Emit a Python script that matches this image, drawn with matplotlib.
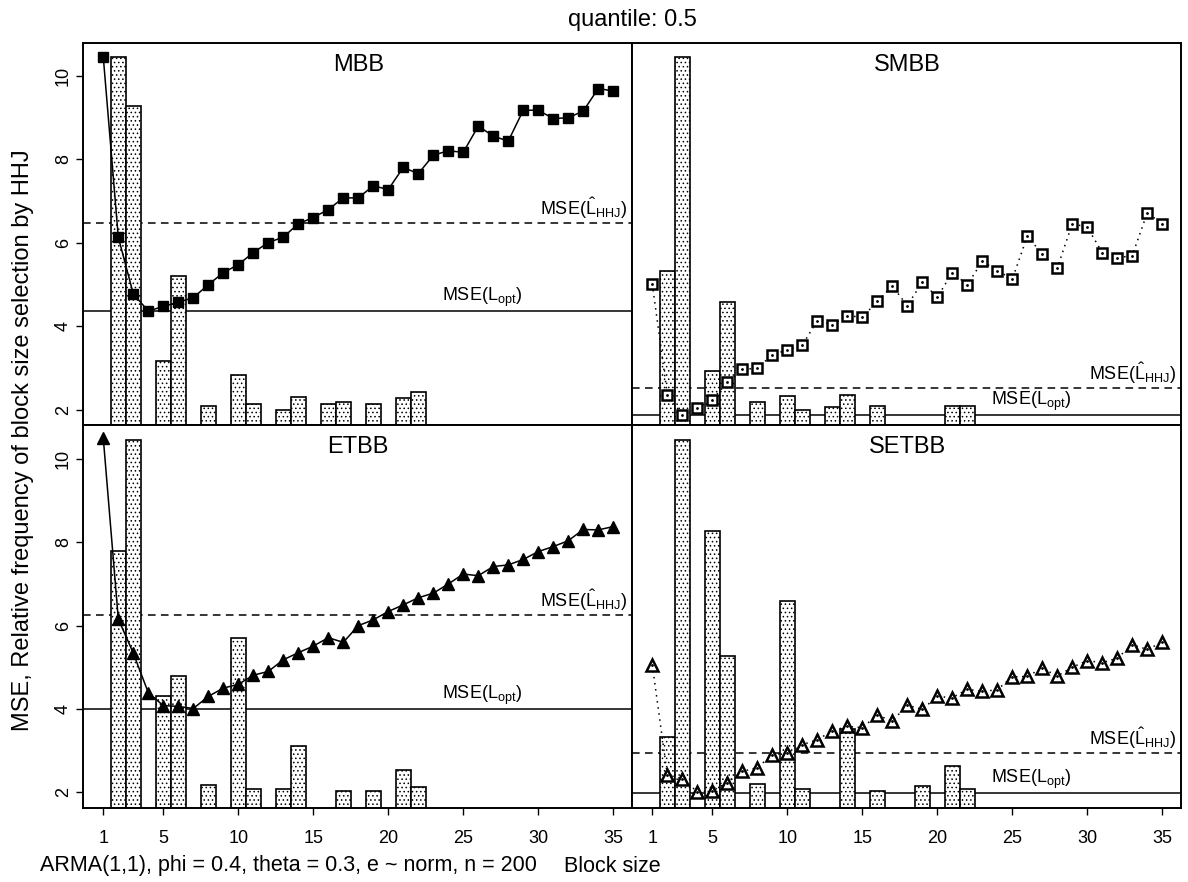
#! /usr/bin/env python
"""MSE by block size for four block bootstraps, with HHJ selection frequencies."""

import matplotlib
matplotlib.use("Agg")
import matplotlib.pyplot as plt

plt.rcParams["font.family"] = ["Liberation Sans", "DejaVu Sans"]
plt.rcParams["mathtext.fontset"] = "custom"
plt.rcParams["mathtext.rm"] = "Liberation Sans"
plt.rcParams["mathtext.it"] = "Liberation Sans:italic"
plt.rcParams["hatch.linewidth"] = 0.6

block_sizes = list(range(1, 36))

mse_mbb = [10.45, 6.14, 4.78, 4.37, 4.48, 4.58, 4.69, 5.00, 5.29, 5.48,
           5.77, 6.01, 6.14, 6.46, 6.61, 6.80, 7.08, 7.08, 7.37, 7.28,
           7.81, 7.66, 8.10, 8.21, 8.17, 8.80, 8.56, 8.44, 9.18, 9.18,
           8.98, 9.00, 9.16, 9.70, 9.64]
mse_smbb = [5.02, 2.37, 1.89, 2.04, 2.25, 2.66, 2.97, 3.00, 3.32, 3.44,
            3.55, 4.14, 4.04, 4.26, 4.22, 4.60, 4.97, 4.50, 5.06, 4.70,
            5.29, 5.00, 5.56, 5.34, 5.13, 6.16, 5.74, 5.40, 6.46, 6.38,
            5.77, 5.64, 5.70, 6.72, 6.46]
mse_etbb = [10.50, 6.16, 5.34, 4.39, 4.08, 4.06, 4.01, 4.30, 4.50, 4.59,
            4.81, 4.90, 5.18, 5.35, 5.51, 5.71, 5.60, 6.00, 6.14, 6.34,
            6.50, 6.67, 6.78, 7.00, 7.24, 7.20, 7.42, 7.46, 7.59, 7.78,
            7.90, 8.04, 8.31, 8.30, 8.38]
mse_setbb = [5.06, 2.42, 2.32, 2.01, 2.03, 2.23, 2.50, 2.59, 2.90, 2.94,
             3.14, 3.26, 3.47, 3.58, 3.55, 3.85, 3.71, 4.09, 3.99, 4.30,
             4.27, 4.47, 4.42, 4.46, 4.77, 4.78, 4.98, 4.79, 5.00, 5.16,
             5.11, 5.22, 5.54, 5.43, 5.60]

# block sizes picked by HHJ and the bar tops (frequency drawn on the MSE scale)
sel_mbb = [2, 3, 5, 6, 8, 10, 11, 13, 14, 16, 17, 19, 21, 22]
freq_mbb = [10.45, 9.29, 3.17, 5.22, 2.09, 2.84, 2.14, 2.01, 2.32, 2.14,
            2.18, 2.14, 2.28, 2.42]
sel_smbb = [2, 3, 5, 6, 8, 10, 11, 13, 14, 16, 21, 22]
freq_smbb = [5.34, 10.45, 2.94, 4.58, 2.20, 2.33, 2.00, 2.06, 2.37, 2.09,
             2.09, 2.09]
sel_etbb = [2, 3, 5, 6, 8, 10, 11, 13, 14, 17, 19, 21, 22]
freq_etbb = [7.80, 10.46, 4.31, 4.78, 2.18, 5.70, 2.07, 2.07, 3.10, 2.02,
             2.02, 2.54, 2.12]
sel_setbb = [2, 3, 5, 6, 8, 10, 11, 14, 16, 19, 21, 22]
freq_setbb = [3.32, 10.47, 8.27, 5.26, 2.19, 6.59, 2.07, 3.52, 2.02, 2.14,
              2.62, 2.07]

methods = ["MBB", "SMBB", "ETBB", "SETBB"]
mse_hhj = [6.48, 2.52, 6.26, 2.94]
mse_opt = [4.38, 1.88, 3.99, 1.98]

x_ticks = [1, 5, 10, 15, 20, 25, 30, 35]
y_ticks = [2, 4, 6, 8, 10]


def main():
    fig = plt.figure(figsize=(11.88, 8.82), dpi=100)

    W, H = 1188.0, 882.0
    left_x, right_x, panel_w = 83 / W, 632 / W, 549 / W
    boxes = [
        (left_x, 1 - 425 / H, panel_w, 382 / H),
        (right_x, 1 - 425 / H, panel_w, 382 / H),
        (left_x, 1 - 808 / H, panel_w, 383 / H),
        (right_x, 1 - 808 / H, panel_w, 383 / H),
    ]
    ylims = [(1.64, 10.79), (1.64, 10.79), (1.62, 10.82), (1.62, 10.82)]

    series = [mse_mbb, mse_smbb, mse_etbb, mse_setbb]
    sels = [sel_mbb, sel_smbb, sel_etbb, sel_setbb]
    freqs = [freq_mbb, freq_smbb, freq_etbb, freq_setbb]
    markers = ["s", "s", "^", "^"]
    filled = [True, False, True, False]

    for i, name in enumerate(methods):
        ax = fig.add_axes(boxes[i])
        y0, y1 = ylims[i]
        ax.set_xlim(-0.353, 36.25)
        ax.set_ylim(y0, y1)

        # selection frequency bars rising from the panel floor
        ax.bar(sels[i], [f - y0 for f in freqs[i]], bottom=y0, width=1.0,
               facecolor="white", edgecolor="black", linewidth=1.2,
               hatch="....", zorder=2)

        ax.axhline(mse_hhj[i], color="black", lw=1.1, ls=(0, (5, 3.5)),
                   zorder=1)
        ax.axhline(mse_opt[i], color="black", lw=1.1, zorder=1)

        if filled[i]:
            ax.plot(block_sizes, series[i], color="black", lw=1.1,
                    marker=markers[i], ms=7.5 if markers[i] == "s" else 9,
                    mfc="black", mec="black", zorder=4)
        else:
            ax.plot(block_sizes, series[i], color="black", lw=1.1,
                    ls=(0, (1, 3)), marker=markers[i],
                    ms=7 if markers[i] == "s" else 9,
                    mfc="white", mec="black", mew=1.8, zorder=4)
            ax.plot(block_sizes, series[i], ls="none", marker=".",
                    ms=2, color="black", zorder=5)

        ax.text(35.9, mse_hhj[i] + 0.05, r"MSE($\hat{\mathrm{L}}_{\mathrm{HHJ}}$)",
                ha="right", va="bottom", fontsize=13, zorder=6)
        ax.text(26.25, mse_opt[i] + 0.05, r"MSE(L$_{\mathrm{opt}}$)",
                ha="center", va="bottom", fontsize=13, zorder=6)
        ax.text(18, 0.972, name, transform=ax.get_xaxis_transform(),
                ha="center", va="top", fontsize=17)

        for sp in ax.spines.values():
            sp.set_linewidth(1.4)

        ax.set_xticks(x_ticks)
        ax.set_yticks(y_ticks)
        ax.tick_params(direction="out", length=5, width=1, labelsize=13)
        ax.tick_params(axis="x", pad=11)
        ax.tick_params(axis="y", pad=3, labelrotation=90)
        for lbl in ax.get_yticklabels():
            lbl.set_va("center")
        if i < 2:
            ax.tick_params(axis="x", bottom=False, labelbottom=False)
        if i % 2 == 1:
            ax.tick_params(axis="y", left=False, labelleft=False)

    fig.text(632 / W, 1 - 20 / H, "quantile: 0.5", ha="center",
             va="center", fontsize=17)
    fig.text(23 / W, 1 - 440 / H,
             "MSE, Relative frequency of block size selection by HHJ",
             rotation=90, ha="center", va="center", fontsize=17)
    fig.text(40 / W, 1 - 866 / H,
             "ARMA(1,1), phi = 0.4, theta = 0.3, e ~ norm, n = 200",
             ha="left", va="center", fontsize=15.5)
    fig.text(612 / W, 1 - 866 / H, "Block size", ha="center",
             va="center", fontsize=15.5)

    fig.savefig("out.png", dpi=100)


if __name__ == "__main__":
    main()
